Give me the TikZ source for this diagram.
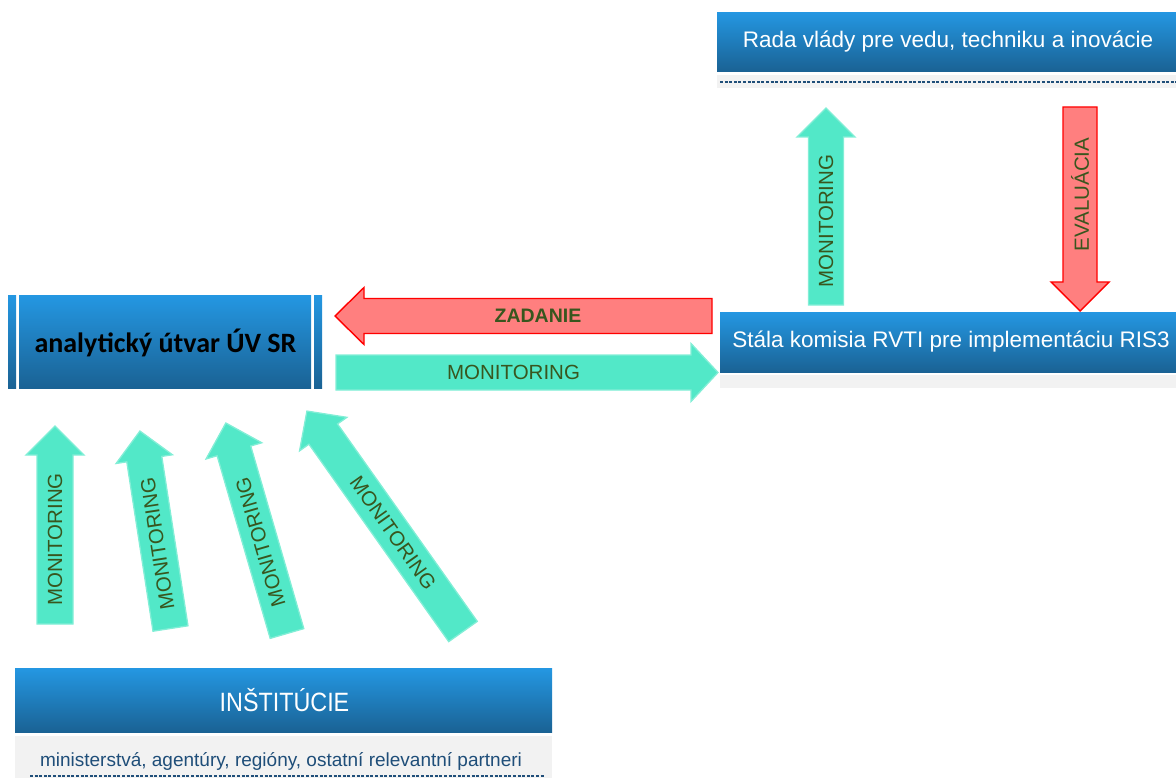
\documentclass[tikz,border=0pt]{standalone}
\usepackage{fontspec}
\setmainfont{Liberation Sans}
\newfontfamily\carlitofont{Carlito}
\newfontfamily\narrowfont[FakeStretch=0.88]{Liberation Sans}
\definecolor{boxtop}{RGB}{36,151,226}
\definecolor{boxbot}{RGB}{26,98,148}
\definecolor{stripgray}{RGB}{242,242,242}
\definecolor{dashblue}{RGB}{31,78,121}
\definecolor{tealfill}{RGB}{82,232,200}
\definecolor{tealline}{RGB}{130,238,214}
\definecolor{redfill}{RGB}{255,127,127}
\definecolor{lblgreen}{RGB}{56,86,30}
\newcommand\blockarrow[8]{%
  \begin{scope}[shift={#2},rotate=#3]
    \path[#8] (0,-#5) -- ({#4-#7},-#5) -- ({#4-#7},-#6) -- (#4,0) -- ({#4-#7},#6) -- ({#4-#7},#5) -- (0,#5) -- cycle;
    \coordinate (#1-mid) at ({(#4-#7)/2},0);
  \end{scope}}
\tikzset{
  bluebox/.style={top color=boxtop, bottom color=boxbot, draw=none, inner sep=0pt, anchor=north west},
  graystrip/.style={fill=stripgray, draw=none, inner sep=0pt, anchor=north west},
  dashline/.style={draw=dashblue, line width=1.7pt, dash pattern=on 3pt off 1.6pt},
  tealarrow/.style={fill=tealfill, draw=tealline, line width=1.3pt, line join=miter},
  redarrow/.style={fill=redfill, draw=red, line width=1.4pt, line join=miter},
  lbl/.style={text=lblgreen, inner sep=0pt, font=\fontsize{20.5}{20.5}\selectfont},
  lblbold/.style={text=lblgreen, inner sep=0pt, font=\bfseries\fontsize{19.5}{19.5}\selectfont},
  whitetxt/.style={text=white, font=\fontsize{22.5}{22.5}\selectfont}
}
\begin{document}
\begin{tikzpicture}[x=1pt,y=-1pt]
\useasboundingbox (0,0) rectangle (1176,778);
% Rada vlady
\node[bluebox, minimum width=459pt, minimum height=59pt] (rada) at (717,12) {};
\node[whitetxt] (radatext) at (948,42) {Rada vlády pre vedu, techniku a inovácie};
\node[graystrip, minimum width=459pt, minimum height=13pt] (radastrip) at (717,75) {};
\draw[dashline] ([xshift=3pt]radastrip.west) -- (radastrip.east);
% Stala komisia
\node[bluebox, minimum width=456pt, minimum height=60pt] (stala) at (720,312) {};
\node[whitetxt] (stalatext) at (951,342) {Stála komisia RVTI pre implementáciu RIS3};
\node[graystrip, minimum width=456pt, minimum height=13pt] (stalastrip) at (720,375) {};
% analyticky utvar
\node[bluebox, minimum width=8pt, minimum height=93pt] (barl) at (8,295) {};
\node[bluebox, minimum width=292pt, minimum height=93pt] (anal) at (19,295) {};
\node[bluebox, minimum width=8pt, minimum height=93pt] (barr) at (314,295) {};
\node[text=black, font=\carlitofont\bfseries\fontsize{28}{28}\selectfont] (analtext) at (165.5,343) {analytický útvar ÚV SR};
% Institucie
\node[bluebox, minimum width=537pt, minimum height=64pt] (inst) at (15,668) {};
\node[text=white, font=\narrowfont\fontsize{26.5}{26.5}\selectfont] (insttext) at (284.5,700) {INŠTITÚCIE};
\node[graystrip, minimum width=537pt, minimum height=42pt] (inststrip) at (15,736) {};
\node[text=dashblue, font=\fontsize{19}{19}\selectfont, anchor=base] (insttext2) at (281,766) {ministerstvá, agentúry, regióny, ostatní relevantní partneri};
\draw[dashline] (30,776) -- (545,776);
% arrows
\blockarrow{monup}{(826,305)}{90}{197}{17.5}{29}{29}{tealarrow}
\node[lbl, rotate=90] (monuptext) at (monup-mid) {MONITORING};
\blockarrow{eval}{(1080,107)}{-90}{204}{17}{29}{29}{redarrow}
\node[lbl, rotate=90] (evaltext) at (eval-mid) {EVALUÁCIA};
\blockarrow{zad}{(712,316)}{180}{377}{17.5}{28.5}{29}{redarrow}
\node[lblbold] (zadtext) at (zad-mid) {ZADANIE};
\blockarrow{monh}{(336,372.5)}{0}{382}{17.5}{29}{27}{tealarrow}
\node[lbl] (monhtext) at (monh-mid) {MONITORING};
\blockarrow{m1}{(55,624)}{90}{198}{18}{29}{29}{tealarrow}
\node[lbl, rotate=90] (m1text) at (m1-mid) {MONITORING};
\blockarrow{m2}{(170.5,628.5)}{98.8}{199.8}{17.7}{28.5}{28.4}{tealarrow}
\node[lbl, rotate=98.8] (m2text) at (m2-mid) {MONITORING};
\blockarrow{m3}{(287,633.5)}{106.2}{219.2}{17.5}{29}{29}{tealarrow}
\node[lbl, rotate=106.2] (m3text) at (m3-mid) {MONITORING};
\blockarrow{m4}{(463,631.5)}{125.3}{270.1}{17.5}{29}{28.2}{tealarrow}
\node[lbl, rotate=-54.7] (m4text) at (m4-mid) {MONITORING};
\end{tikzpicture}
\end{document}
